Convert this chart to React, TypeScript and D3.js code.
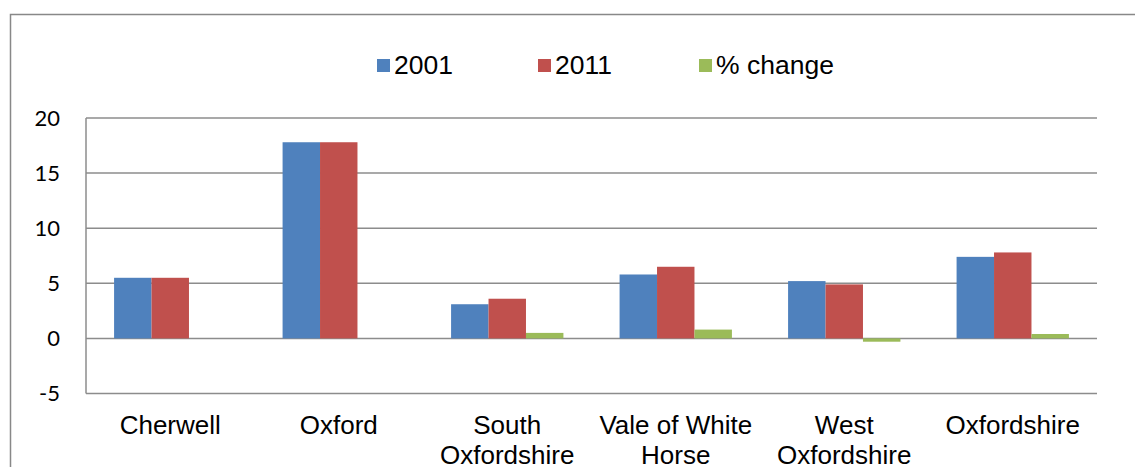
import React, { useEffect, useRef } from 'react';
import * as d3 from 'd3';

const categories = ['Cherwell', 'Oxford', 'South Oxfordshire', 'Vale of White Horse', 'West Oxfordshire', 'Oxfordshire'];
const categoryLines = [['Cherwell'], ['Oxford'], ['South', 'Oxfordshire'], ['Vale of White', 'Horse'], ['West', 'Oxfordshire'], ['Oxfordshire']];
const seriesNames = ['2001', '2011', '% change'];
const values2001 = [5.5, 17.8, 3.1, 5.8, 5.2, 7.4];
const values2011 = [5.5, 17.8, 3.6, 6.5, 4.9, 7.8];
const valuesChange = [0, 0, 0.5, 0.8, -0.3, 0.4];
const yTicks = [-5, 0, 5, 10, 15, 20];
const colors = ['#4F81BD', '#C0504D', '#9BBB59'];

const App = () => {
  const svgRef = useRef(null);

  useEffect(() => {
    const svg = d3.select(svgRef.current);
    svg.selectAll('*').remove();

    const W = 1135, H = 467;
    const left = 86, right = 1097, top = 118, bottom = 393.5;

    // outer chart frame (right/bottom run off the picture)
    svg.append('path')
      .attr('d', `M10.5,${H + 2}V14.5H${W + 2}`)
      .attr('fill', 'none')
      .attr('stroke', '#888')
      .attr('stroke-width', 1.5);

    const x = d3.scaleBand().domain(categories).range([left, right]);
    const y = d3.scaleLinear().domain([-5, 20]).range([bottom, top]);
    const barW = x.bandwidth() / 4.5;
    const xs = d3.scaleBand().domain(seriesNames).range([0, barW * 3]);

    // gridlines
    svg.append('g').selectAll('line')
      .data(yTicks)
      .join('line')
      .attr('x1', left).attr('x2', right)
      .attr('y1', d => y(d)).attr('y2', d => y(d))
      .attr('stroke', '#8c8c8c')
      .attr('stroke-width', 1.5);

    svg.append('line')
      .attr('x1', left).attr('x2', left)
      .attr('y1', top).attr('y2', bottom)
      .attr('stroke', '#8c8c8c')
      .attr('stroke-width', 1.5);

    // y tick labels
    svg.append('g').selectAll('text')
      .data(yTicks)
      .join('text')
      .attr('x', 60)
      .attr('y', d => y(d) + 7.5)
      .attr('text-anchor', 'end')
      .style('font-family', 'Lato, "Open Sans", sans-serif')
      .style('font-size', '22px')
      .attr('fill', '#000')
      .text(d => d);

    const series = [values2001, values2011, valuesChange];
    series.forEach((vals, si) => {
      svg.append('g').selectAll('rect')
        .data(vals.map((v, i) => ({ v, c: categories[i] })))
        .join('rect')
        .attr('x', d => x(d.c) + (x.bandwidth() - barW * 3) / 2 + xs(seriesNames[si]))
        .attr('y', d => Math.min(y(d.v), y(0)))
        .attr('width', barW)
        .attr('height', d => Math.abs(y(d.v) - y(0)))
        .attr('fill', colors[si]);
    });

    // category labels
    const labels = svg.append('g');
    categoryLines.forEach((lines, i) => {
      const t = labels.append('text')
        .attr('x', x(categories[i]) + x.bandwidth() / 2)
        .attr('y', 434)
        .attr('text-anchor', 'middle')
        .style('font-family', 'Arial, "Liberation Sans", sans-serif')
        .style('font-size', '26px');
      lines.forEach((ln, li) => {
        t.append('tspan')
          .attr('x', x(categories[i]) + x.bandwidth() / 2)
          .attr('dy', li === 0 ? 0 : 29.5)
          .text(ln);
      });
    });

    // legend
    const legendX = [377, 538, 699];
    seriesNames.forEach((name, i) => {
      svg.append('rect')
        .attr('x', legendX[i]).attr('y', 59)
        .attr('width', 13).attr('height', 13)
        .attr('fill', colors[i]);
      svg.append('text')
        .attr('x', legendX[i] + 17)
        .attr('y', 73.5)
        .style('font-family', 'Arial, "Liberation Sans", sans-serif')
        .style('font-size', '26.5px')
        .text(name);
    });
  }, []);

  return (
    <div style={{ position: 'absolute', left: 0, top: 0 }}>
      <svg ref={svgRef} width={1135} height={467} style={{ display: 'block' }}></svg>
    </div>
  );
};

export default App;
